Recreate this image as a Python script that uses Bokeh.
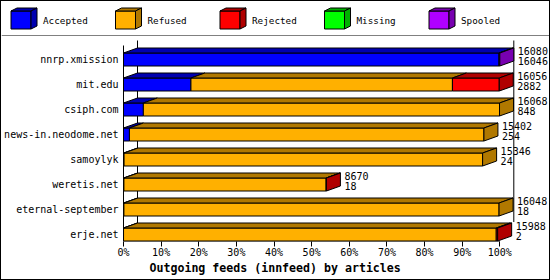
from bokeh.plotting import figure
from bokeh.models import Range1d, FixedTicker, PrintfTickFormatter, Title
from bokeh.layouts import column
from bokeh.embed import file_html
from bokeh.resources import INLINE
from bokeh.core.properties import value

# ---------------- data ----------------
categories = ["nnrp.xmission", "mit.edu", "csiph.com", "news-in.neodome.net",
              "samoylyk", "weretis.net", "eternal-september", "erje.net"]
offered = [16080, 16056, 16068, 15402, 15346, 8670, 16048, 15988]
accepted = [16046, 2882, 848, 254, 24, 18, 18, 2]
refused = [0, 11174, 15220, 15148, 15322, 8642, 16030, 15926]
rejected = [0, 2000, 0, 0, 0, 10, 0, 60]
missing = [0, 0, 0, 0, 0, 0, 0, 0]
spooled = [34, 0, 0, 0, 0, 0, 0, 0]
series_names = ["Accepted", "Refused", "Rejected", "Missing", "Spooled"]
series_colors = ["#0000FF", "#FFB000", "#FF0000", "#00FF00", "#B000FF"]
series_shades = ["#0000B0", "#B07800", "#B00000", "#00B000", "#7800B0"]
x_ticks = [0, 10, 20, 30, 40, 50, 60, 70, 80, 90, 100]
chart_title = "Outgoing feeds (innfeed) by articles"

# ---------------- style constants ----------------
FONT = "DejaVu Sans Mono"
PX_PER_PCT = 3.763
ROW_PX = 25.0
DX = 14 / PX_PER_PCT
DY = 5 / ROW_PX
HALF = 0.26
W = 548

series = [accepted, refused, rejected, missing, spooled]
n = len(categories)
scale_max = max(offered)

# ---------------- legend figure ----------------
leg = figure(width=W, height=35, x_range=Range1d(1, 549), y_range=Range1d(36, 1),
             output_backend="svg", toolbar_location=None, min_border=0)
leg.frame_align = False
leg.axis.visible = False
leg.grid.visible = False
leg.outline_line_color = None

lq = dict(left=[], right=[], top=[], bottom=[], color=[])
lxs, lys, lcol = [], [], []
for k, name in enumerate(series_names):
    x0 = 10.5 + 104.5 * k
    lq["left"].append(x0); lq["right"].append(x0 + 20)
    lq["top"].append(10.5); lq["bottom"].append(28.5)
    lq["color"].append(series_colors[k])
    lxs.append([x0, x0 + 20, x0 + 26, x0 + 6]); lys.append([10.5, 10.5, 7.5, 7.5]); lcol.append(series_shades[k])
    lxs.append([x0 + 20, x0 + 26, x0 + 26, x0 + 20]); lys.append([10.5, 7.5, 25.5, 28.5]); lcol.append(series_shades[k])
leg.quad(left="left", right="right", top="top", bottom="bottom", fill_color="color",
         line_color="black", line_width=1, source=lq)
leg.patches(lxs, lys, fill_color=lcol, line_color="black", line_width=1)
leg.text(x=[10.5 + 104.5 * k + 32 for k in range(len(series_names))],
         y=[20] * len(series_names), text=series_names,
         text_font=value(FONT), text_font_size="9.3px", text_baseline="middle",
         text_align="left", text_color="black")
leg.segment(x0=[1], y0=[35.5], x1=[549], y1=[35.5], line_color="black", line_width=1)

# ---------------- main figure ----------------
y_bottom = -0.28
y_top = y_bottom + 205 / ROW_PX
x_start = -1 / PX_PER_PCT
x_end = x_start + (W - 121) / PX_PER_PCT
p = figure(width=W, height=243, x_range=Range1d(x_start, x_end), y_range=Range1d(y_bottom, y_top),
           output_backend="svg", toolbar_location=None,
           min_border_left=121, min_border_right=0, min_border_top=0, min_border_bottom=38)
p.frame_align = False
p.grid.visible = False
p.outline_line_color = None

# axes
p.xaxis.ticker = FixedTicker(ticks=x_ticks)
p.xaxis.formatter = PrintfTickFormatter(format="%d%%")
p.xaxis.axis_line_color = None
p.xaxis.major_tick_in = 0
p.xaxis.major_tick_out = 5
p.xaxis.minor_tick_line_color = None
p.xaxis.major_tick_line_color = "black"
p.xaxis.major_label_standoff = 0
p.xaxis.major_label_text_font = FONT
p.xaxis.major_label_text_font_size = "10px"
p.xaxis.major_label_text_color = "black"

ypos = [n - 1 - i for i in range(n)]
p.yaxis.ticker = FixedTicker(ticks=ypos)
p.yaxis.major_label_overrides = {ypos[i]: categories[i] for i in range(n)}
p.yaxis.axis_line_color = None
p.yaxis.major_tick_line_color = None
p.yaxis.minor_tick_line_color = None
p.yaxis.major_tick_out = 0
p.yaxis.major_tick_in = 0
p.yaxis.major_label_standoff = 4
p.yaxis.major_label_text_font = FONT
p.yaxis.major_label_text_font_size = "10px"
p.yaxis.major_label_text_color = "black"

t = Title(text=chart_title, align="left", offset=27, text_font=FONT, vertical_align="top",
          text_font_style="bold", text_font_size="11.6px", text_color="black", standoff=0)
p.add_layout(t, "below")

# 3D box frame lines
box_top_back = n - 1 + 0.76
p.segment(x0=[0, DX, 100 + DX, 0], y0=[y_bottom, y_bottom + DY, 0.5, y_bottom],
          x1=[0, DX, 100 + DX, 100], y1=[box_top_back - DY, box_top_back, box_top_back, y_bottom],
          line_color="black", line_width=1)

# bars
fq = dict(left=[], right=[], top=[], bottom=[], color=[])
pxs, pys, pcol = [], [], []
lab_x, lab_y1, lab_y2, lab_t1, lab_t2 = [], [], [], [], []
for i in range(n):
    y = ypos[i]
    cum = 0
    last = 0
    for s, vals in enumerate(series):
        v = vals[i]
        if v <= 0:
            continue
        x0 = cum / scale_max * 100
        cum += v
        x1 = cum / scale_max * 100
        fq["left"].append(x0); fq["right"].append(x1)
        fq["bottom"].append(y - HALF); fq["top"].append(y + HALF)
        fq["color"].append(series_colors[s])
        pxs.append([x0, x1, x1 + DX, x0 + DX])
        pys.append([y + HALF, y + HALF, y + HALF + DY, y + HALF + DY])
        pcol.append(series_shades[s])
        last = s
    xe = cum / scale_max * 100
    pxs.append([xe, xe + DX, xe + DX, xe])
    pys.append([y - HALF, y - HALF + DY, y + HALF + DY, y + HALF])
    pcol.append(series_shades[last])
    lab_x.append(xe + DX)
    lab_y1.append(y + 0.36)
    lab_y2.append(y - 0.06)
    lab_t1.append(str(offered[i]))
    lab_t2.append(str(accepted[i]))

p.quad(left="left", right="right", top="top", bottom="bottom", fill_color="color",
       line_color="black", line_width=1, source=fq)
p.patches(pxs, pys, fill_color=pcol, line_color="black", line_width=1)

for ys, ts in ((lab_y1, lab_t1), (lab_y2, lab_t2)):
    p.text(x=lab_x, y=ys, text=ts, x_offset=4, text_font=value(FONT), text_font_size="10px",
           text_baseline="middle", text_align="left", text_color="black")

layout = column(leg, p, styles={"border": "1px solid black"}, spacing=0)
open("out.html", "w").write(file_html(layout, INLINE))
